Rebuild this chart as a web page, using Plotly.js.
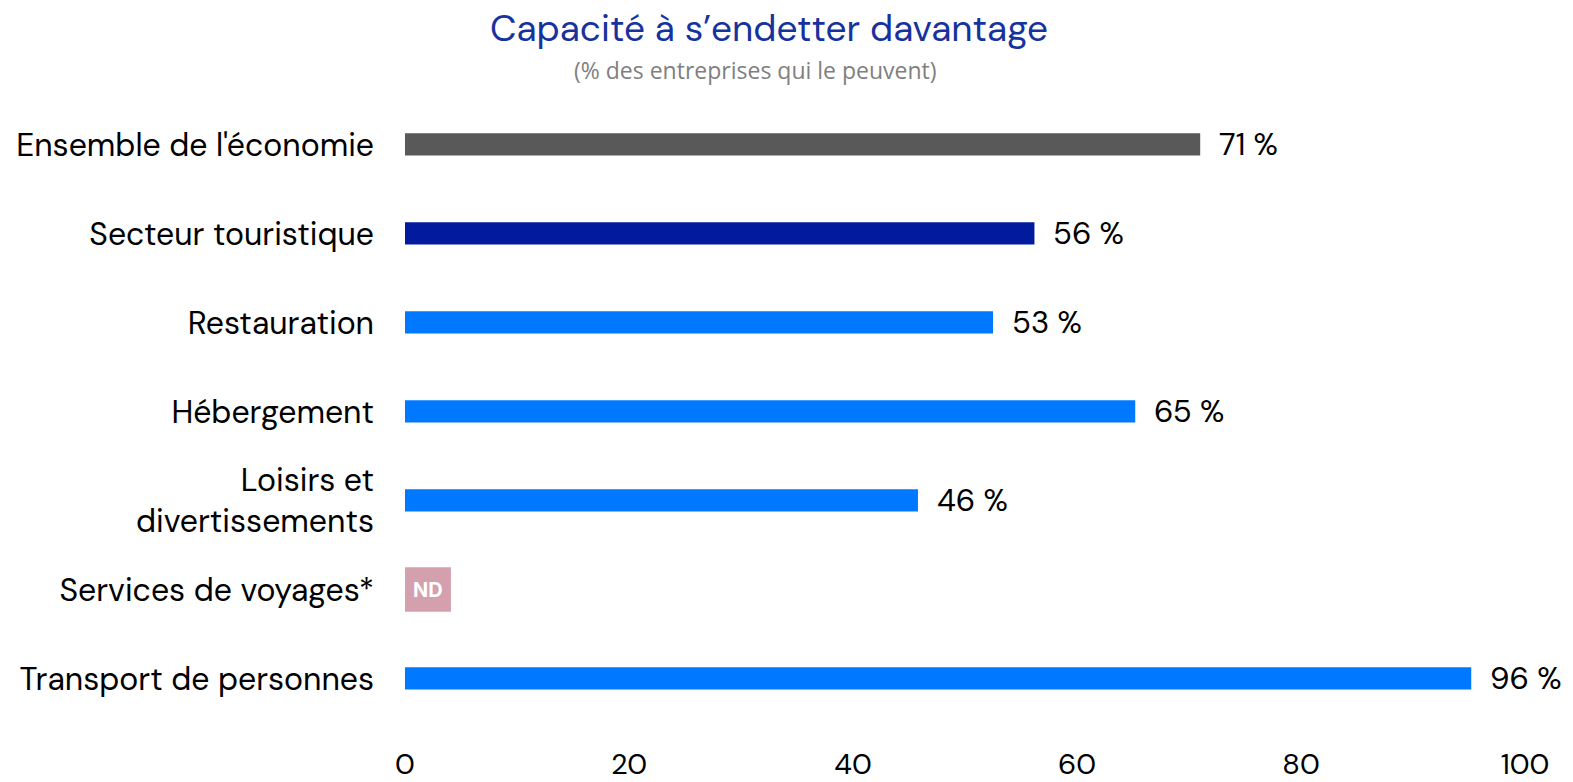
<!DOCTYPE html>
<html>
<head>
<meta charset="utf-8">
<script src="https://cdn.plot.ly/plotly-3.0.1.min.js"></script>
<style>html,body{margin:0;padding:0;background:#fff;}#chart{width:1573px;height:782px;}</style>
</head>
<body>
<div id="chart"></div>
<script>
const categories = ["Ensemble de l'économie", "Secteur touristique", "Restauration", "Hébergement", "Loisirs et<br>divertissements", "Services de voyages*", "Transport de personnes"];
const values = [71, 56.2, 52.5, 65.2, 45.8, null, 95.2];
const valueLabels = ["71 %", "56 %", "53 %", "65 %", "46 %", "", "96 %"];
const barColors = ["#595959", "#021A9E", "#0078FF", "#0078FF", "#0078FF", "#0078FF", "#0078FF"];
const ndCategory = ["Services de voyages*"];
const ndValue = [4.1];
const ndLabel = ["ND"];
const xTicks = [0, 20, 40, 60, 80, 100];

const FONT = "DM Sans, Inter, Roboto, sans-serif";

const mainTrace = {
  type: 'bar', orientation: 'h',
  y: categories, x: values,
  marker: {color: barColors},
  width: 0.25,
  hoverinfo: 'skip'
};
const ndTrace = {
  type: 'bar', orientation: 'h',
  y: ndCategory, x: ndValue,
  marker: {color: '#D4A0AE'},
  width: 0.5,
  text: ndLabel, textposition: 'inside', insidetextanchor: 'middle',
  textfont: {family: "Inter, Roboto, sans-serif", size: 20, color: '#ffffff', weight: 'bold'},
  hoverinfo: 'skip'
};

const annotations = categories.map((c, i) => values[i] == null ? null : ({
  x: values[i], y: c, xref: 'x', yref: 'y',
  text: valueLabels[i], showarrow: false,
  xanchor: 'left', yanchor: 'middle', xshift: 17,
  font: {family: FONT, size: 31, color: '#000000'}
})).filter(a => a);

annotations.push({
  xref: 'paper', yref: 'paper', x: (755 - 405) / 1120, xanchor: 'center', y: 1, yanchor: 'bottom', yshift: 12,
  text: "(% des entreprises qui le peuvent)", showarrow: false,
  font: {family: "Open Sans, sans-serif", size: 23, color: '#7F7F7F'}
});

const layout = {
  width: 1573, height: 782,
  margin: {l: 405, r: 48, t: 100, b: 38},
  paper_bgcolor: '#ffffff', plot_bgcolor: '#ffffff',
  showlegend: false,
  barmode: 'overlay',
  title: {
    text: "Capacité à s’endetter davantage",
    x: 769 / 1573, xanchor: 'center', xref: 'container',
    y: 1 - 28 / 782, yanchor: 'middle', yref: 'container',
    font: {family: FONT, size: 37, color: '#16329E'}
  },
  xaxis: {
    range: [0, 100], tickvals: xTicks, ticktext: xTicks.map(String),
    showgrid: false, zeroline: false, showline: false, ticks: '',
    tickfont: {family: FONT, size: 29, color: '#000000'},
    fixedrange: true
  },
  yaxis: {
    type: 'category', range: [6.736, -0.5],
    showgrid: false, zeroline: false, showline: false, ticks: '',
    ticklabelstandoff: 30,
    tickfont: {family: FONT, size: 32, color: '#000000'},
    fixedrange: true
  },
  annotations: annotations
};

Plotly.newPlot('chart', [mainTrace, ndTrace], layout, {displayModeBar: false, staticPlot: true});
</script>
</body>
</html>
